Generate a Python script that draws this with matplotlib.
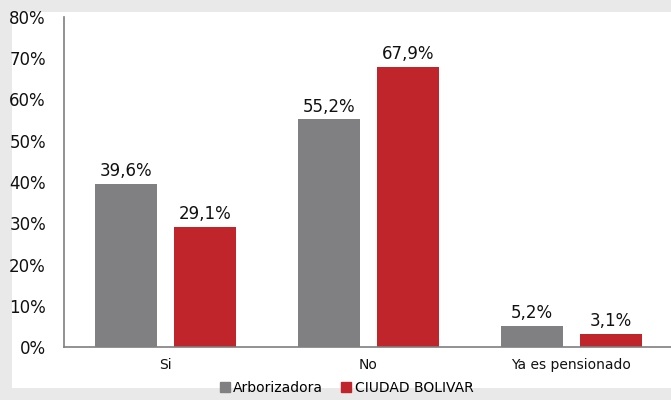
import matplotlib.pyplot as plt
import numpy as np
from matplotlib.patches import Rectangle
from matplotlib.lines import Line2D
from matplotlib.ticker import FuncFormatter

categories = ["Si", "No", "Ya es pensionado"]
arborizadora = [39.6, 55.2, 5.2]
ciudad_bolivar = [29.1, 67.9, 3.1]
series_names = ["Arborizadora", "CIUDAD BOLIVAR"]

GRAY = "#808083"
RED = "#c0252b"

fig = plt.figure(figsize=(6.71, 4.0), dpi=100)
fig.patch.set_facecolor("#e9e9e9")
fig.patches.append(Rectangle((12 / 671, 12 / 400), 1, 376 / 400,
                             transform=fig.transFigure, facecolor="white",
                             edgecolor="none", zorder=-10))

ax = fig.add_axes([64 / 671, 53 / 400, 609 / 671, 330 / 400])
ax.set_facecolor("none")

x = np.arange(len(categories))
w = 0.305
off = 0.196
b1 = ax.bar(x - off, arborizadora, w, color=GRAY)
b2 = ax.bar(x + off, ciudad_bolivar, w, color=RED)

fmt = lambda v: f"{v:.1f}%".replace(".", ",")
for bars, vals in ((b1, arborizadora), (b2, ciudad_bolivar)):
    for b, v in zip(bars, vals):
        ax.text(b.get_x() + b.get_width() / 2, v + 0.9, fmt(v),
                ha="center", va="bottom", fontsize=12, color="#111111")

ax.set_xlim(-0.5, len(categories) - 0.5)
ax.set_ylim(0, 80)
ax.set_yticks(range(0, 81, 10))
ax.yaxis.set_major_formatter(FuncFormatter(lambda v, _: f"{v:.0f}%"))
ax.set_xticks(x)
ax.set_xticklabels(categories)
ax.tick_params(axis="both", length=0, colors="#111111")
ax.tick_params(axis="y", pad=13, labelsize=12)
ax.tick_params(axis="x", pad=8, labelsize=10)

for s in ("top", "right"):
    ax.spines[s].set_visible(False)
for s in ("left", "bottom"):
    ax.spines[s].set_color("#7f7f7f")
    ax.spines[s].set_linewidth(1.2)

handles = [Line2D([], [], marker="s", linestyle="none", markersize=7, color=c)
           for c in (GRAY, RED)]
fig.legend(handles, series_names, loc="center", bbox_to_anchor=(0.515, 0.03),
           ncol=2, frameon=False, fontsize=10, handletextpad=0.1,
           columnspacing=1.2, handlelength=1.0)

fig.savefig("out.png", dpi=100, facecolor=fig.get_facecolor())
